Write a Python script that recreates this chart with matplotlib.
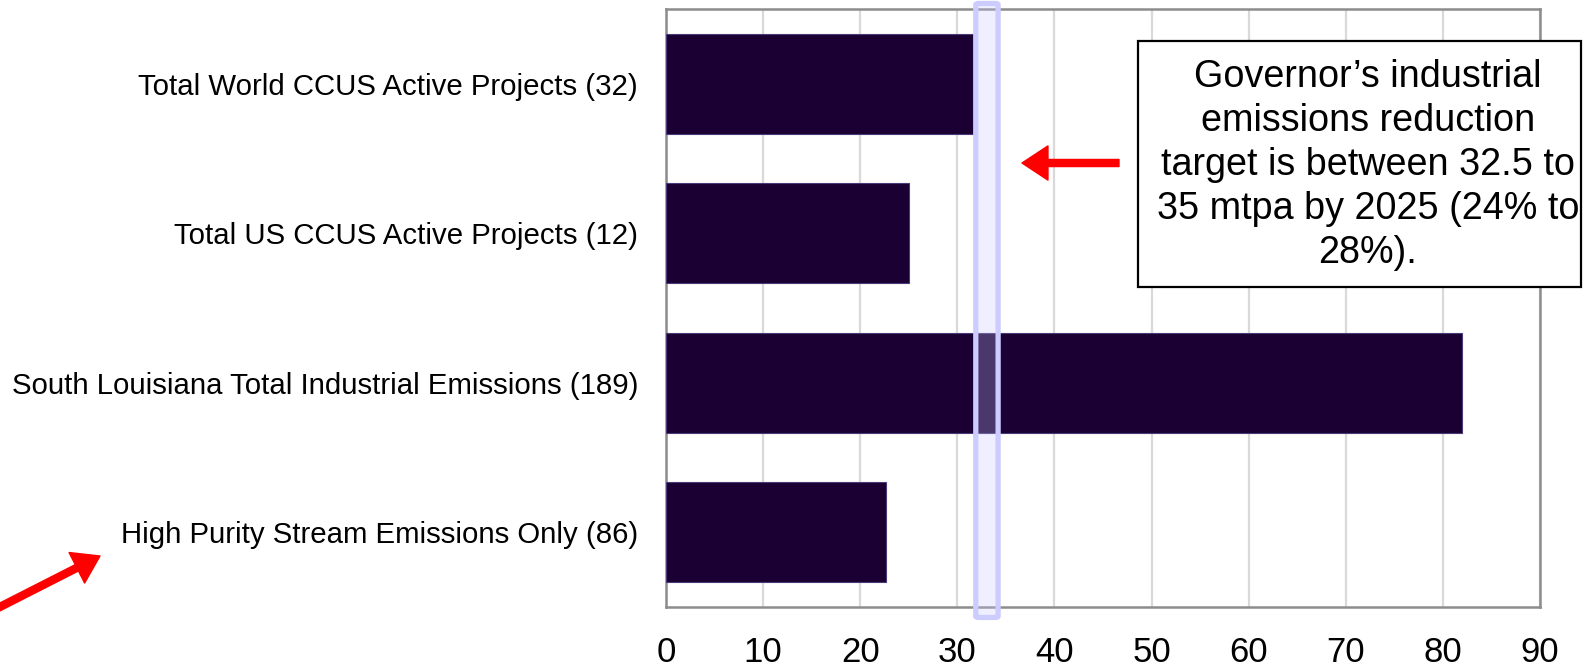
import matplotlib
matplotlib.use("Agg")
import matplotlib.pyplot as plt
from matplotlib.patches import Rectangle, FancyBboxPatch, FancyArrowPatch

plt.rcParams['font.family'] = ['Liberation Sans', 'DejaVu Sans']

# Emissions / capture volumes (mtpa)
categories = [
    "Total World CCUS Active Projects (32)",
    "Total US CCUS Active Projects (12)",
    "South Louisiana Total Industrial Emissions (189)",
    "High Purity Stream Emissions Only (86)",
]
values = [31.6, 25, 82, 22.7]
x_ticks = [0, 10, 20, 30, 40, 50, 60, 70, 80, 90]
target_low, target_high = 31.9, 34.2
note = ("Governor\u2019s industrial\nemissions reduction\ntarget is between 32.5 to\n"
        "35 mtpa by 2025 (24% to\n28%).")

W, H, DPI = 1583, 668, 100
fig = plt.figure(figsize=(W / DPI, H / DPI), dpi=DPI)
ax = fig.add_axes([666 / W, 1 - 607 / H, (1540 - 666) / W, (607 - 9) / H])

ypos = list(range(len(categories)))[::-1]
ax.barh(ypos, values, height=0.67, color="#1a0033", edgecolor="#4b3a78",
        linewidth=0.8, zorder=3)

ax.set_xlim(0, 90)
ax.set_ylim(-0.5, 3.5)
ax.set_xticks(x_ticks)
ax.set_xticklabels([str(t) for t in x_ticks], fontsize=25)
ax.set_yticks(ypos)
ax.set_yticklabels(categories, fontsize=21.2)
ax.tick_params(axis="both", length=0)
ax.tick_params(axis="x", pad=21)
ax.tick_params(axis="y", pad=20)
ax.grid(axis="x", color="#d9d9d9", linewidth=1.6, zorder=0)
ax.set_axisbelow(True)
for s in ax.spines.values():
    s.set_color("#8c8c8c")
    s.set_linewidth(1.8)

# target band overlay
band = FancyBboxPatch((target_low, -0.57), target_high - target_low, 3.537 + 0.57,
                      boxstyle="round,pad=0,rounding_size=0.3",
                      mutation_aspect=0.03,
                      facecolor=(0.78, 0.78, 1.0, 0.28), edgecolor="#ccccff",
                      linewidth=3.8, clip_on=False, zorder=5)
ax.add_patch(band)

# annotation box
fig.add_artist(Rectangle((1138 / W, 1 - 287 / H), (1581 - 1138) / W, (287 - 41) / H,
                         transform=fig.transFigure, facecolor="white",
                         edgecolor="black", linewidth=1.6, zorder=6))
fig.text(1368 / W, 1 - 165 / H, note, ha="center", va="center", fontsize=27.2,
         linespacing=1.28, zorder=7)

# red arrows
arrow_style = dict(arrowstyle="simple,head_length=1.1,head_width=1.45,tail_width=0.3",
                   color="red", mutation_scale=17, shrinkA=0, shrinkB=0)
fig.add_artist(FancyArrowPatch(
    (1119, H - 163), (1022, H - 163), transform=None, zorder=8, **arrow_style))
fig.add_artist(FancyArrowPatch(
    (-10, H - 612), (100, H - 556), transform=None, zorder=8, **arrow_style))

fig.savefig("out.png", dpi=DPI)
